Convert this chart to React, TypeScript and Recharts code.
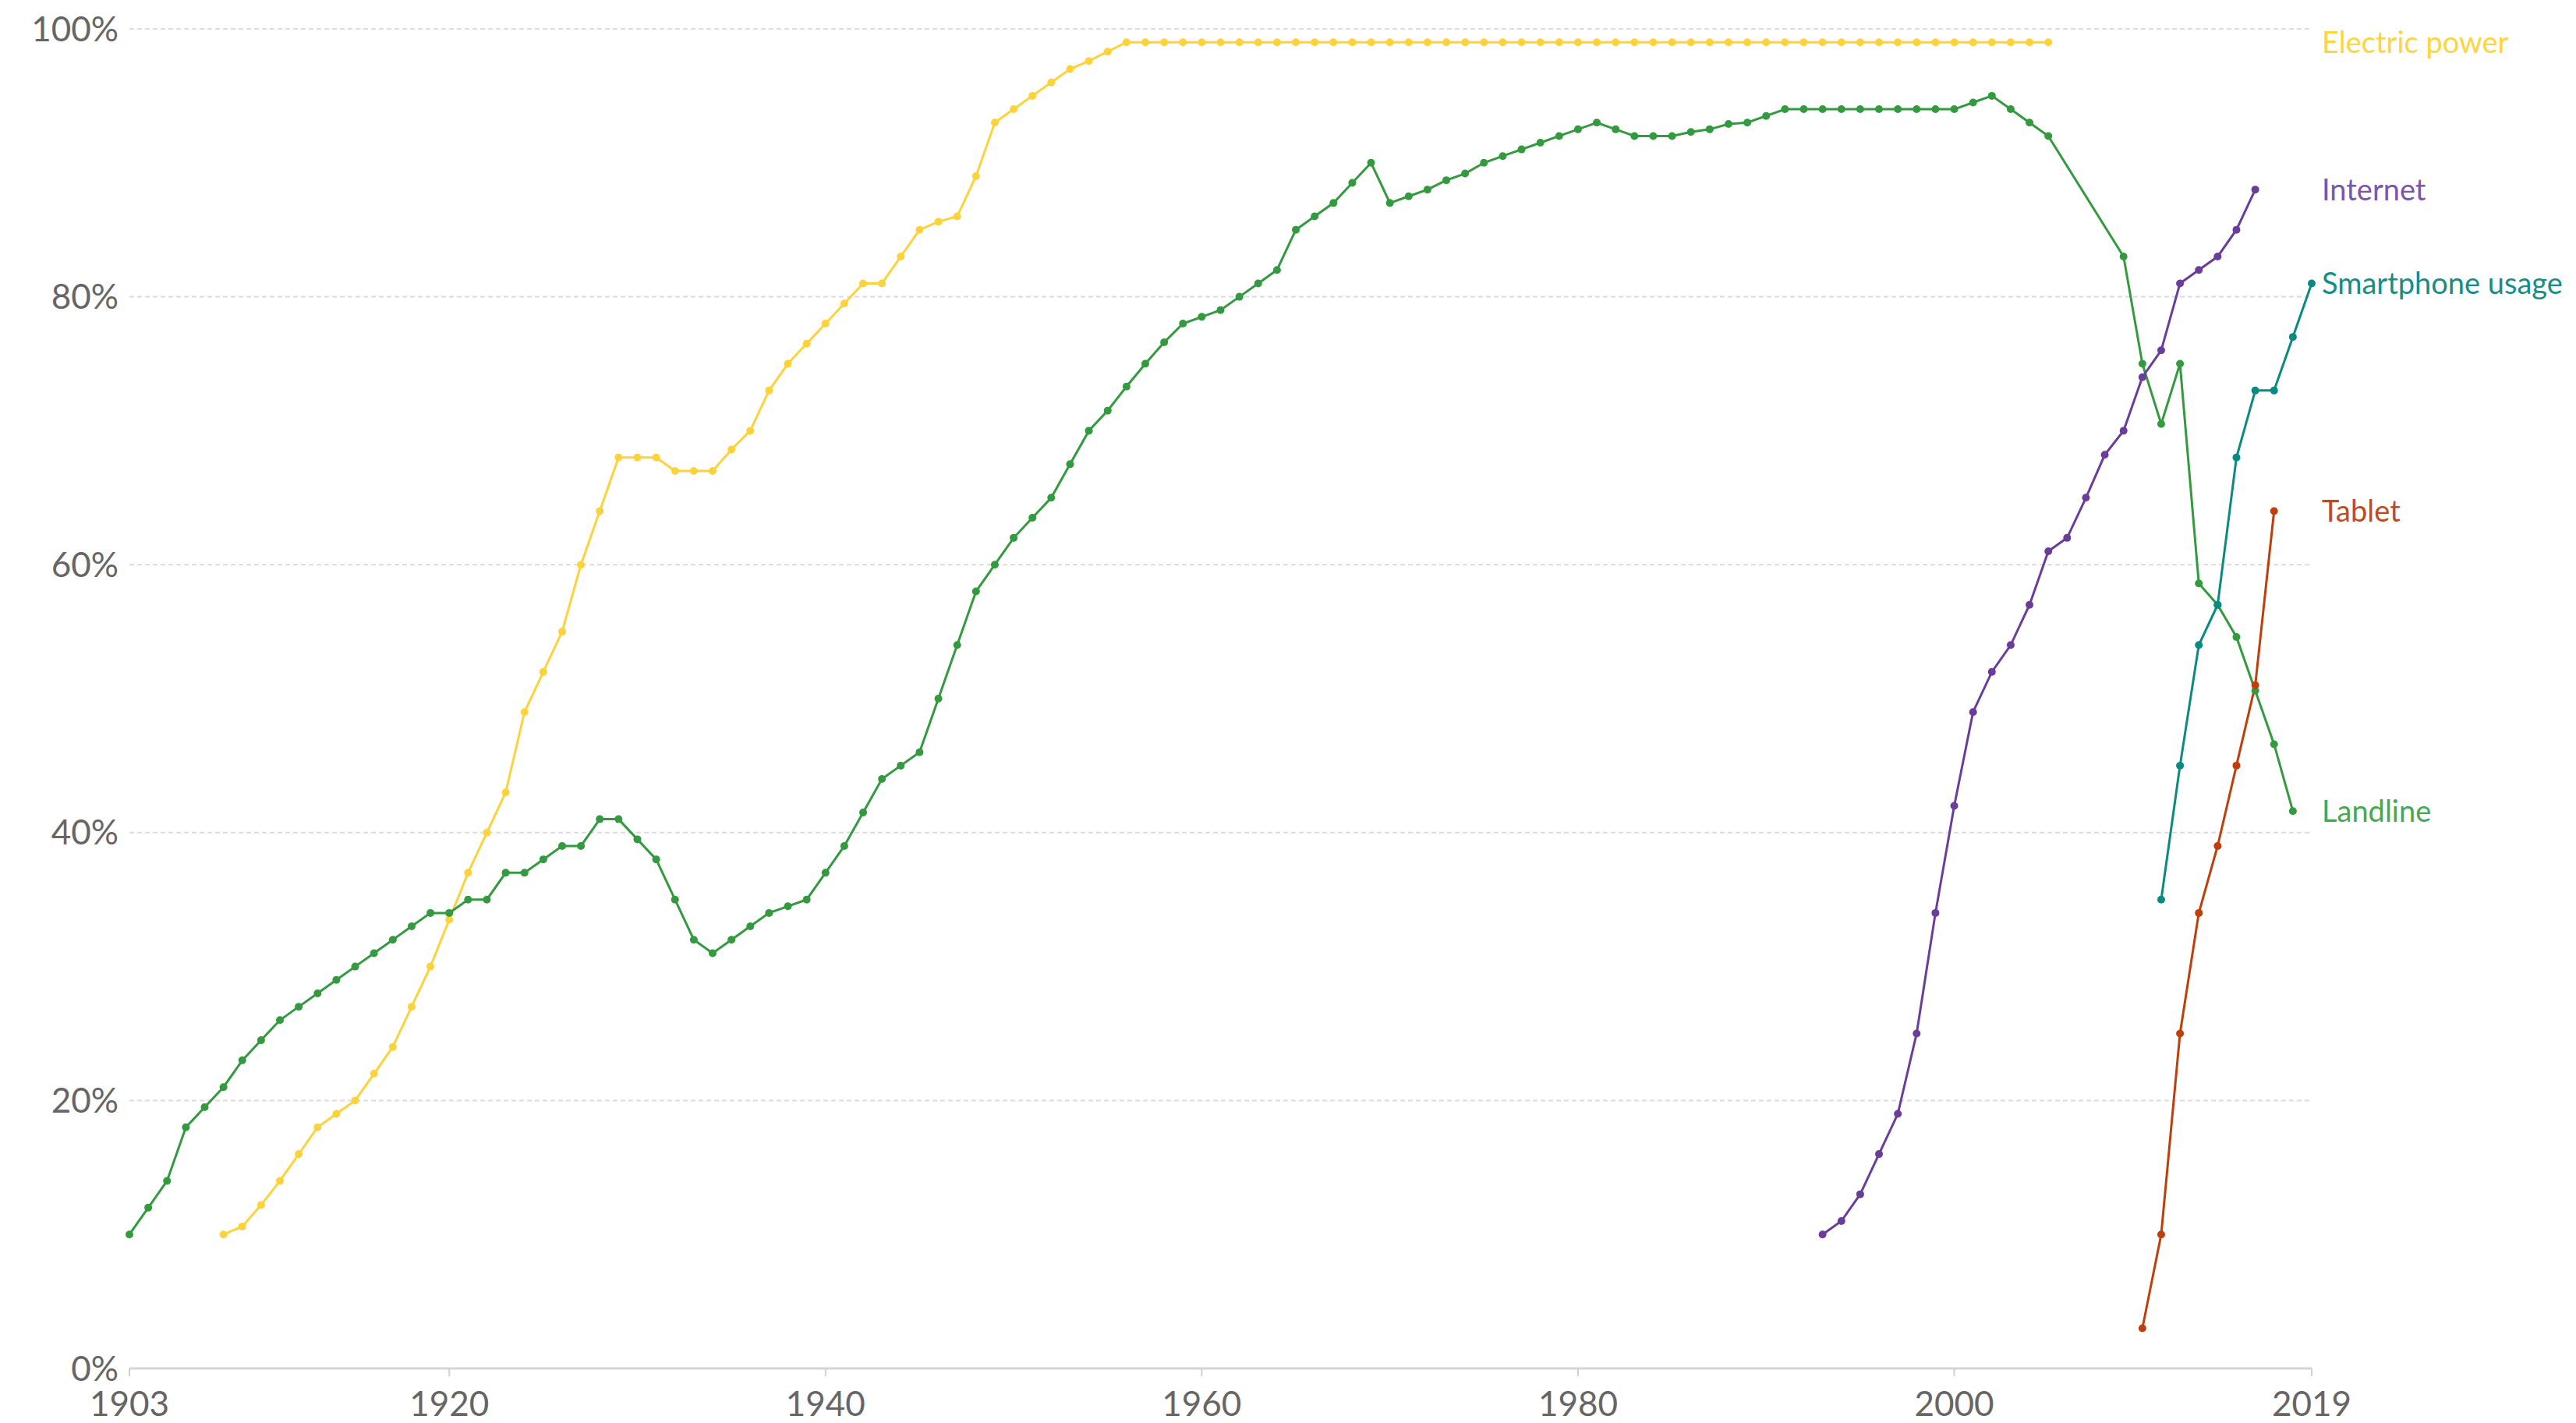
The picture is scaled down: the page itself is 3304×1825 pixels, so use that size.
import { LineChart, Line, XAxis, YAxis, CartesianGrid, ReferenceDot } from 'recharts';

const FIRST_YEAR = 1903;
const LAST_YEAR = 2019;
const xTicks = [1903, 1920, 1940, 1960, 1980, 2000, 2019];
const yTicks = [0, 20, 40, 60, 80, 100];

// share of households, %, one value per year from the start year
const landlineStart = 1903;
const landline = [
  10, 12, 14, 18, 19.5, 21, 23, 24.5, 26, 27, 28, 29, 30, 31, 32, 33, 34, 34, 35, 35,
  37, 37, 38, 39, 39, 41, 41, 39.5, 38, 35, 32, 31, 32, 33, 34, 34.5, 35, 37, 39, 41.5,
  44, 45, 46, 50, 54, 58, 60, 62, 63.5, 65, 67.5, 70, 71.5, 73.3, 75, 76.6, 78, 78.5, 79, 80,
  81, 82, 85, 86, 87, 88.5, 90, 87, 87.5, 88, 88.7, 89.2, 90, 90.5, 91, 91.5, 92, 92.5, 93, 92.5,
  92, 92, 92, 92.3, 92.5, 92.9, 93, 93.5, 94, 94, 94, 94, 94, 94, 94, 94, 94, 94,
  94.5, 95, 94, 93, 92, null, null, null, 83, 75, 70.5, 75, 58.6, 57, 54.6, 50.6, 46.6, 41.6,
];

const electricStart = 1908;
const electric = [
  10, 10.6, 12.2, 14, 16, 18, 19, 20, 22, 24, 27, 30, 33.5, 37, 40, 43, 49, 52, 55, 60,
  64, 68, 68, 68, 67, 67, 67, 68.6, 70, 73, 75, 76.5, 78, 79.5, 81, 81, 83, 85, 85.6, 86,
  89, 93, 94, 95, 96, 97, 97.6, 98.3, 99, 99, 99, 99, 99, 99, 99, 99, 99, 99, 99, 99,
  99, 99, 99, 99, 99, 99, 99, 99, 99, 99, 99, 99, 99, 99, 99, 99, 99, 99, 99, 99,
  99, 99, 99, 99, 99, 99, 99, 99, 99, 99, 99, 99, 99, 99, 99, 99, 99, 99,
];

const internetStart = 1993;
const internet = [10, 11, 13, 16, 19, 25, 34, 42, 49, 52, 54, 57, 61, 62, 65, 68.2, 70, 74, 76, 81, 82, 83, 85, 88];

const smartphoneStart = 2011;
const smartphone = [35, 45, 54, 57, 68, 73, 73, 77, 81];

const tabletStart = 2010;
const tablet = [3, 10, 25, 34, 39, 45, 51, 64];

const series = [
  { key: 'electric', name: 'Electric power', start: electricStart, values: electric, color: '#FDD23A', labelColor: '#FFD43E' },
  { key: 'landline', name: 'Landline', start: landlineStart, values: landline, color: '#339A3F', labelColor: '#46A852' },
  { key: 'internet', name: 'Internet', start: internetStart, values: internet, color: '#6B3D9A', labelColor: '#7C56A8' },
  { key: 'smartphone', name: 'Smartphone usage', start: smartphoneStart, values: smartphone, color: '#0B8A82', labelColor: '#158E87' },
  { key: 'tablet', name: 'Tablet', start: tabletStart, values: tablet, color: '#BF3F0C', labelColor: '#C24A1A' },
];

const chartData: Record<string, number | null>[] = [];
for (let year = FIRST_YEAR; year <= LAST_YEAR; year++) {
  const row: Record<string, number | null> = { year };
  series.forEach((s) => {
    const v = s.values[year - s.start];
    row[s.key] = v === undefined ? null : v;
  });
  chartData.push(row);
}

const lastValue = (values: (number | null)[]) => {
  for (let i = values.length - 1; i >= 0; i--) {
    if (values[i] !== null) return values[i] as number;
  }
  return 0;
};

const FONT = 'Lato, "Open Sans", sans-serif';

const App = () => {
  return (
    <div style={{ position: 'absolute', left: 0, top: 0, width: 3304, height: 1825, background: '#fff' }}>
      <LineChart
        width={3304}
        height={1825}
        data={chartData}
        margin={{ top: 37, right: 339, bottom: 10, left: 0 }}
      >
        <CartesianGrid vertical={false} stroke="#dcdcdc" strokeWidth={2} strokeDasharray="6 4" />
        <XAxis
          dataKey="year"
          type="number"
          domain={[FIRST_YEAR, LAST_YEAR]}
          ticks={xTicks}
          interval={0}
          height={60}
          axisLine={{ stroke: '#d6d6d6', strokeWidth: 3 }}
          tickLine={{ stroke: '#d0d0d0', strokeWidth: 2 }}
          tickSize={10}
          tickMargin={20}
          tick={{ fill: '#666', fontSize: 44, fontFamily: FONT }}
        />
        <YAxis
          domain={[0, 100]}
          ticks={yTicks}
          interval={0}
          width={166}
          axisLine={false}
          tickLine={false}
          tickSize={0}
          tickMargin={14}
          tickFormatter={(v: number) => `${v}%`}
          tick={{ fill: '#666', fontSize: 44, fontFamily: FONT }}
        />
        {series.map((s) => (
          <Line
            key={s.key}
            dataKey={s.key}
            name={s.name}
            type="linear"
            stroke={s.color}
            strokeWidth={3}
            connectNulls
            dot={{ r: 5, fill: s.color, stroke: s.color, strokeWidth: 0 }}
            activeDot={false}
            isAnimationActive={false}
          />
        ))}
        {series.map((s) => (
          <ReferenceDot
            key={`label-${s.key}`}
            x={LAST_YEAR}
            y={lastValue(s.values)}
            r={0}
            fill="none"
            stroke="none"
            label={{
              value: s.name,
              position: 'right',
              offset: 13,
              fill: s.labelColor,
              fontSize: 38,
              fontFamily: FONT,
            }}
          />
        ))}
      </LineChart>
    </div>
  );
};

export default App;
